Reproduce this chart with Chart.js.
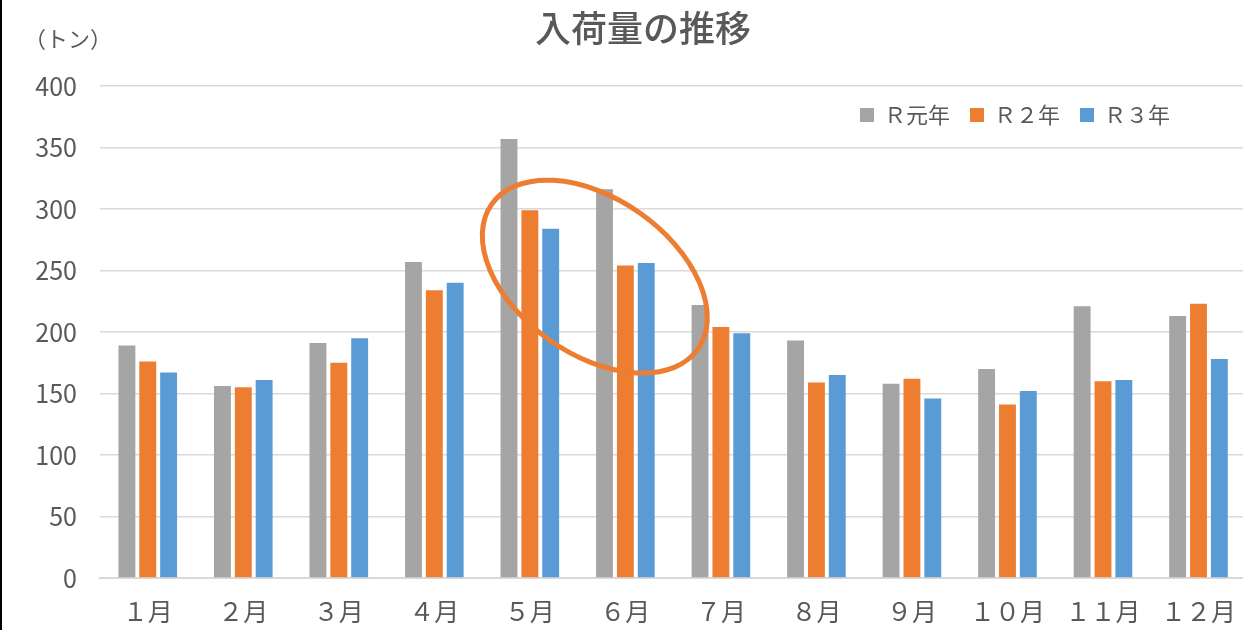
<!DOCTYPE html>
<html lang="ja">
<head>
    <meta charset="UTF-8">
    <title>入荷量の推移</title>
    <script src="https://cdn.jsdelivr.net/npm/chart.js"></script>
    <style>
        body { margin: 0; overflow: hidden; background: #fff; }
        #wrap { position: relative; width: 1254px; height: 630px; }
        #edge { position: absolute; left: 0; top: 0; width: 2px; height: 630px; background: #000; }
    </style>
</head>
<body>
    <div id="wrap">
        <canvas id="chart" width="1254" height="630"></canvas>
        <div id="edge"></div>
    </div>

    <script>
        // data
        const months = ['１月', '２月', '３月', '４月', '５月', '６月', '７月', '８月', '９月', '１０月', '１１月', '１２月'];
        const seriesNames = ['Ｒ元年', 'Ｒ２年', 'Ｒ３年'];
        const r1 = [189, 156, 191, 257, 357, 316, 222, 193, 158, 170, 221, 213];
        const r2 = [176, 155, 175, 234, 299, 254, 204, 159, 162, 141, 160, 223];
        const r3 = [167, 161, 195, 240, 284, 256, 199, 165, 146, 152, 161, 178];
        const colors = ['#A5A5A5', '#ED7D31', '#5B9BD5'];
        const chartTitle = '入荷量の推移';
        const unitLabel = '（トン）';

        const textColor = '#595959';
        const jpFont = '"Noto Sans CJK JP", "Noto Sans", sans-serif';

        // title, unit label, legend and the circled highlight
        const overlay = {
            id: 'overlay',
            afterDatasetsDraw(chart) {
                const ctx = chart.ctx;
                const x = chart.scales.x, y = chart.scales.y;

                // orange ellipse round 5月/6月
                ctx.save();
                ctx.strokeStyle = '#ED7D31';
                ctx.lineWidth = 5;
                ctx.beginPath();
                ctx.ellipse(x.getPixelForValue(4.68), y.getPixelForValue(245), 126, 78, 35 * Math.PI / 180, 0, Math.PI * 2);
                ctx.stroke();
                ctx.restore();
            },
            afterDraw(chart) {
                const ctx = chart.ctx;
                ctx.save();
                ctx.fillStyle = textColor;
                ctx.textBaseline = 'middle';

                ctx.font = '500 36px ' + jpFont;
                ctx.textAlign = 'center';
                ctx.fillText(chartTitle, 643, 28);

                ctx.font = '22px ' + jpFont;
                ctx.textAlign = 'left';
                ctx.fillText(unitLabel, 24, 39);

                // legend
                ctx.font = '22px ' + jpFont;
                let lx = 860;
                chart.data.datasets.forEach((ds) => {
                    ctx.fillStyle = ds.backgroundColor;
                    ctx.fillRect(lx, 108, 14, 14);
                    ctx.fillStyle = textColor;
                    ctx.fillText(ds.label, lx + 24, 115);
                    lx += ctx.measureText(ds.label).width + 24 + 20;
                });
                ctx.restore();
            }
        };

        const ctx = document.getElementById('chart').getContext('2d');
        const chart = new Chart(ctx, {
            type: 'bar',
            data: {
                labels: months,
                datasets: [
                    { label: seriesNames[0], data: r1, backgroundColor: colors[0] },
                    { label: seriesNames[1], data: r2, backgroundColor: colors[1] },
                    { label: seriesNames[2], data: r3, backgroundColor: colors[2] },
                ],
            },
            options: {
                responsive: false,
                animation: false,
                devicePixelRatio: 1,
                categoryPercentage: 0.655,
                barPercentage: 0.81,
                layout: { padding: { top: 86, right: 0, left: 0, bottom: 0 } },
                plugins: {
                    legend: { display: false },
                    title: { display: false },
                    tooltip: { enabled: false },
                },
                scales: {
                    x: {
                        grid: { display: false, drawTicks: false },
                        border: { display: true, color: '#D9D9D9', width: 2 },
                        ticks: { color: textColor, font: { family: jpFont, size: 25 }, padding: 18, maxRotation: 0 },
                        afterFit: (s) => { s.height = 52; },
                    },
                    y: {
                        min: 0,
                        max: 400,
                        ticks: { stepSize: 50, color: textColor, font: { family: jpFont, size: 25 }, padding: 23 },
                        grid: { color: '#D9D9D9', lineWidth: 1.5, drawTicks: false },
                        border: { display: false },
                        afterFit: (s) => { s.width = 100; },
                    },
                },
            },
            plugins: [overlay],
        });
    </script>
</body>
</html>
